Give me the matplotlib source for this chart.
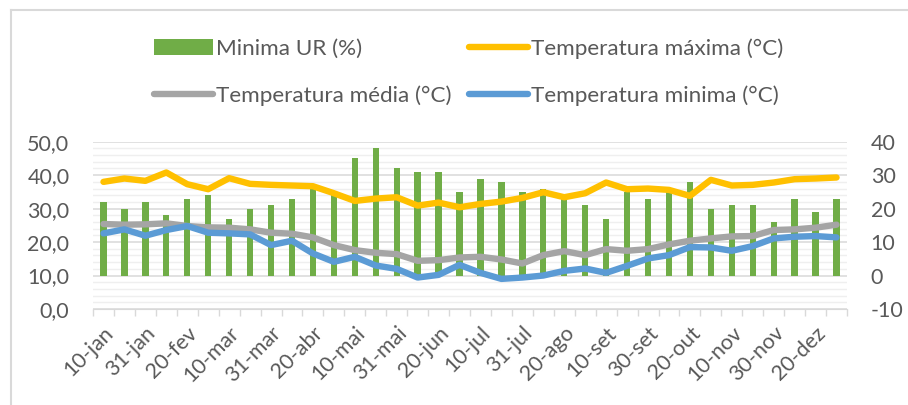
import numpy as np
import matplotlib
matplotlib.use("Agg")
import matplotlib.pyplot as plt
from matplotlib.ticker import MultipleLocator, FuncFormatter
from matplotlib.lines import Line2D

plt.rcParams['font.family'] = ['Lato', 'DejaVu Sans']

dekads = ['10-jan', '20-jan', '31-jan', '10-fev', '20-fev', '28-fev',
          '10-mar', '20-mar', '31-mar', '10-abr', '20-abr', '30-abr',
          '10-mai', '20-mai', '31-mai', '10-jun', '20-jun', '30-jun',
          '10-jul', '20-jul', '31-jul', '10-ago', '20-ago', '31-ago',
          '10-set', '20-set', '30-set', '10-out', '20-out', '31-out',
          '10-nov', '20-nov', '30-nov', '10-dez', '20-dez', '31-dez']

# minimum relative humidity (right axis)
ur_min = [22, 20, 22, 18, 23, 24, 17, 20, 21, 23, 26, 24,
          35, 38, 32, 31, 31, 25, 29, 28, 25, 26, 24, 21,
          17, 25, 23, 25, 28, 20, 21, 21, 16, 23, 19, 23]

# temperatures (left axis)
t_max = [38.0, 39.0, 38.3, 40.8, 37.3, 35.8, 39.1, 37.4, 37.1, 36.9, 36.7, 34.6,
         32.3, 33.0, 33.4, 30.9, 31.8, 30.4, 31.4, 32.1, 33.2, 34.9, 33.4, 34.6,
         37.8, 35.8, 36.0, 35.6, 33.8, 38.6, 36.9, 37.1, 37.8, 38.8, 39.0, 39.3]
t_med = [25.4, 25.2, 25.3, 25.6, 24.8, 24.4, 24.3, 23.8, 22.8, 22.5, 21.4, 19.1,
         17.6, 16.8, 16.4, 14.4, 14.6, 15.4, 15.6, 14.8, 13.6, 16.1, 17.3, 16.1,
         17.9, 17.4, 17.9, 19.3, 20.4, 21.1, 21.7, 21.8, 23.6, 23.8, 24.3, 25.2]
t_min = [22.6, 23.8, 21.9, 23.6, 24.8, 22.8, 22.6, 22.3, 19.1, 20.4, 16.6, 14.1,
         15.6, 13.0, 12.0, 9.4, 10.2, 13.2, 10.8, 9.0, 9.4, 10.0, 11.4, 12.1,
         10.8, 12.9, 15.1, 16.1, 18.5, 18.4, 17.4, 18.8, 21.1, 21.6, 21.8, 21.4]

txt = '#595959'
W, H = 908, 405
fig = plt.figure(figsize=(W / 100, H / 100), dpi=100)

# light frame of the chart area
fig.add_artist(Line2D([11 / W, 11 / W], [0, 1 - 10 / H], color='#d9d9d9', lw=1.5))
fig.add_artist(Line2D([11 / W, 1], [1 - 10 / H, 1 - 10 / H], color='#d9d9d9', lw=1.5))

ax = fig.add_axes([93 / W, 1 - 309 / H, (847 - 93) / W, (309 - 141.7) / H])
x = np.arange(len(dekads))

# bars on the secondary scale (-10..40), labels on the right
ax.bar(x, ur_min, width=0.3, color='#70AD47', zorder=2, label='Minima UR (%)')
ax.set_ylim(-10, 40)
ax.set_xlim(-0.5, len(dekads) - 0.5)
ax.yaxis.set_major_locator(MultipleLocator(10))
ax.yaxis.set_minor_locator(MultipleLocator(2))
ax.yaxis.set_major_formatter(FuncFormatter(lambda v, p: f'{v:.0f}'))
ax.grid(which='major', axis='y', color='#d9d9d9', lw=1.1, zorder=0)
ax.grid(which='minor', axis='y', color='#efefef', lw=1.0, zorder=0)

ax.set_xticks(x[::2])
ax.set_xticklabels(dekads[::2], rotation=45, ha='right', rotation_mode='anchor')
ax.set_xticks(np.arange(len(dekads) + 1) - 0.5, minor=True)
ax.tick_params(axis='x', which='major', length=0, labelsize=15.5, labelcolor=txt, pad=10)
ax.tick_params(axis='x', which='minor', length=5, color='#d9d9d9', width=1)
for s in ['top', 'left', 'right']:
    ax.spines[s].set_visible(False)
ax.spines['bottom'].set_color('#d9d9d9')

# temperatures on the primary scale (0..50), labels on the left
ax2 = ax.twinx()
ax.yaxis.tick_right()
ax.tick_params(axis='y', which='both', length=0, labelsize=15.5, labelcolor=txt, pad=17)
ax2.plot(x, t_max, color='#FFC000', lw=4.6, solid_capstyle='round', label='Temperatura máxima (°C)')
ax2.plot(x, t_med, color='#A5A5A5', lw=4.6, solid_capstyle='round', label='Temperatura média (°C)')
ax2.plot(x, t_min, color='#5B9BD5', lw=4.6, solid_capstyle='round', label='Temperatura minima (°C)')
ax2.set_ylim(0, 50)
ax2.yaxis.set_major_locator(MultipleLocator(10))
ax2.yaxis.tick_left()
ax2.yaxis.set_major_formatter(FuncFormatter(lambda v, p: f'{v:.1f}'.replace('.', ',')))
ax2.tick_params(axis='y', length=0, labelsize=15.5, labelcolor=txt, pad=17)
for s in ax2.spines.values():
    s.set_visible(False)

h1, l1 = ax.get_legend_handles_labels()
h2, l2 = ax2.get_legend_handles_labels()
handles = [h1[0], h2[1], h2[0], h2[2]]
labels = [l1[0], l2[1], l2[0], l2[2]]
fig.legend(handles, labels, ncol=2, loc='upper left', bbox_to_anchor=(154 / W, 1 - 38 / H),
           frameon=False, fontsize=16.2, labelcolor=txt, handlelength=2.6, handletextpad=0.15,
           columnspacing=0.8, labelspacing=1.2, borderpad=0, borderaxespad=0)

fig.savefig('out.png', dpi=100)
